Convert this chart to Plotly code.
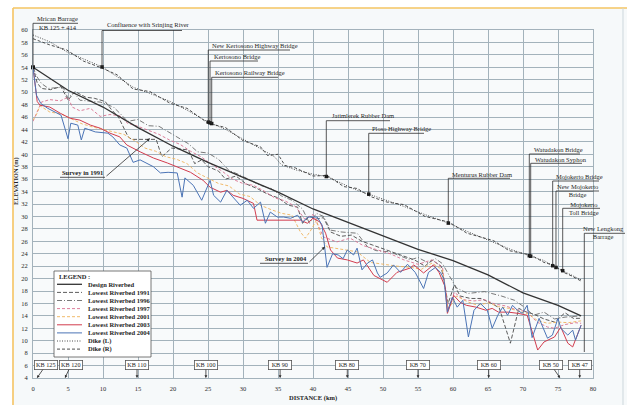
import numpy as np
import plotly.graph_objects as go

FONT = "Liberation Serif"

# ---------------- longitudinal profile data (distance km, elevation m) ----------------
design_km = [0, 5, 10, 15, 20, 25, 30, 35, 40, 45, 50, 55, 60, 65, 70, 75, 78.3]
design_el = [54.0, 50.3, 47.6, 44.3, 41.3, 38.7, 36.3, 33.9, 31.2, 29.0, 26.9, 24.7, 22.9, 20.6, 17.7, 15.7, 14.0]

bed1991_km = [0, 0.6, 1.2, 2.5, 4, 5, 6, 7.5, 8.8, 10.3, 11.2, 12.2, 13.6, 14.1, 17.6, 18.4, 19.8, 22.2, 23.1,
              24.1, 25, 26.5, 27.5, 29, 30.5, 32, 33.5, 35, 36.5, 37.8, 38.5, 39.5, 40.5, 41.5, 42.5, 44, 45.5,
              47, 48.5, 50.5, 52.5, 54.5, 56, 57, 58.3, 59.3, 60.2, 61, 62.5, 64, 65.5, 66.6, 68.2, 69.4, 70.5,
              71.5, 73, 74.5, 76, 77.2, 78.3]
bed1991_el = [54.0, 51.5, 50.6, 50.4, 50.9, 48.7, 50.1, 49.2, 49.0, 48.5, 47.2, 46.0, 42.8, 42.4, 42.4, 39.6,
              41.0, 40.7, 38.5, 39.1, 38.0, 37.3, 36.0, 36.5, 35.2, 34.5, 33.6, 33.0, 31.8, 31.5, 28.9, 30.0,
              29.6, 29.8, 27.5, 26.8, 27.0, 26.0, 25.4, 24.6, 23.8, 23.0, 22.0, 23.0, 22.0, 16.0, 19.0, 17.2,
              16.8, 16.8, 16.0, 15.3, 9.6, 15.2, 14.6, 14.3, 13.5, 13.0, 14.5, 13.6, 13.6]

bed1996_km = [0, 0.5, 1.2, 2.2, 4.3, 5.0, 5.8, 6.7, 9.6, 11.5, 12.5, 13.5, 15, 16.5, 18, 19.5, 21, 22.2, 23.5,
              25, 26.5, 28, 29.5, 31, 32.5, 34, 35.5, 37, 38.5, 39.5, 40.5, 41.5, 42.5, 44, 46.3, 47.8, 49,
              51, 53.9, 55, 56.5, 57.5, 58.5, 59.7, 60.5, 62.1, 64.5, 66.9, 68.8, 70.2, 71.5, 73, 74.5, 76, 78.3]
bed1996_el = [54.0, 52.6, 51.4, 50.6, 50.8, 49.0, 50.0, 48.7, 48.4, 47.6, 46.5, 45.3, 45.6, 44.6, 44.5, 43.5,
              42.4, 41.7, 40.4, 40.2, 39.2, 37.4, 36.7, 35.8, 35.0, 34.5, 33.3, 32.6, 31.2, 28.9, 30.5, 30.0,
              27.8, 27.5, 27.3, 25.1, 24.5, 24.3, 23.0, 23.4, 22.5, 23.2, 22.4, 20.0, 18.5, 17.6, 17.9, 17.2,
              16.5, 15.4, 14.1, 14.6, 13.5, 13.8, 14.0]

bed1997_km = [0, 0.6, 1.2, 2.4, 3.9, 5.0, 5.6, 6.7, 8.2, 9.6, 11, 12.4, 13.5, 15, 16.5, 18, 19.5, 21, 22.5, 24,
              25.5, 27, 28.5, 30, 31.5, 33, 34.5, 36, 37.5, 38.8, 40, 41.5, 43.4, 45.3, 47.2, 49.2, 51, 53, 55,
              57, 58.5, 59.3, 60.2, 61.5, 63, 64.5, 66, 67.5, 69, 70.5, 72, 73.5, 74.5, 76, 77.5, 78.3]
bed1997_el = [45.3, 47.0, 48.4, 48.8, 48.6, 49.2, 47.6, 47.0, 47.4, 46.1, 46.4, 46.2, 45.0, 44.5, 43.8, 43.2,
              42.3, 41.6, 40.5, 39.6, 38.4, 37.3, 36.0, 35.3, 35.0, 34.1, 33.0, 32.5, 31.6, 29.6, 30.3, 26.7,
              25.9, 26.5, 25.3, 24.6, 24.0, 23.0, 22.3, 23.0, 21.8, 15.2, 17.8, 16.6, 16.4, 16.6, 15.9, 15.6,
              15.0, 14.7, 13.0, 12.2, 12.0, 12.6, 12.9, 12.8]

bed2001_km = [0, 0.5, 1, 2.4, 4, 5.5, 7, 8.5, 10, 11.5, 13, 14.5, 16, 17.5, 19, 20.5, 22, 23.5, 25, 26.5, 28,
              29.5, 31, 32.5, 34, 35.5, 37, 38.2, 38.9, 39.6, 40.5, 41.2, 42, 43.5, 46.3, 48.2, 50, 52, 53.9,
              55.5, 57, 58.5, 59.3, 60.5, 62, 63.5, 65, 66.5, 68, 69.5, 70.8, 72, 73.5, 75, 76.5, 78.3]
bed2001_el = [45.5, 46.4, 47.8, 46.8, 46.5, 45.7, 44.9, 44.4, 44.0, 43.6, 43.2, 42.2, 41.0, 40.5, 39.6, 39.2,
              38.5, 37.0, 36.2, 35.3, 34.9, 33.6, 33.2, 31.8, 31.1, 30.5, 30.2, 27.5, 26.5, 27.6, 29.4, 26.6,
              25.1, 24.8, 24.3, 22.6, 22.3, 22.0, 21.8, 21.5, 22.5, 21.4, 15.0, 17.2, 16.3, 15.7, 16.1, 15.5,
              15.2, 14.7, 14.3, 13.3, 12.8, 13.0, 12.9, 13.2]

bed2003_km = [0, 0.6, 1, 2.4, 3.9, 5.3, 6.7, 8.2, 9.6, 11, 12.4, 13.4, 15.3, 17.2, 19.2, 20.6, 22.5, 24.3, 25.3,
              26.8, 27.7, 28.6, 30, 31.5, 32, 38.2, 39.2, 40, 41, 41.8, 42.5, 43.5, 44.9, 46.3, 47.2, 48.7,
              50.6, 52, 53.9, 54.4, 55.8, 57.2, 58, 58.9, 59.2, 60.1, 61, 61.9, 63.3, 64.7, 65.6, 66.5, 67.9,
              69.3, 70.6, 72.1, 73, 74.5, 75.4, 76.4, 77.1, 78.3]
bed2003_el = [54.0, 48.5, 47.9, 47.6, 46.6, 45.8, 45.5, 44.7, 44.2, 43.4, 42.8, 41.5, 40.4, 39.4, 38.6, 38.0,
              37.1, 35.8, 34.7, 33.9, 34.2, 33.4, 32.9, 32.1, 29.4, 29.4, 28.9, 29.7, 29.1, 27.3, 24.6, 23.3,
              23.0, 22.5, 23.0, 20.5, 19.4, 21.0, 21.7, 22.2, 20.9, 22.2, 21.0, 18.6, 14.4, 17.3, 16.2, 15.7,
              15.4, 14.9, 15.2, 14.6, 14.6, 14.4, 14.1, 8.5, 9.8, 10.6, 12.2, 9.6, 9.0, 12.5]

bed2004_km = [0, 0.5, 1.1, 2.1, 4, 5, 5.4, 6.4, 6.9, 7.4, 8.9, 10.7, 11.4, 12.4, 13.4, 14.3, 15.3, 17.2, 18.2,
              19.3, 20.6, 21.3, 21.7, 22.9, 24.1, 25.3, 25.8, 26.8, 27.7, 28.6, 29.6, 30.6, 31.5, 32.5, 33.2,
              33.9, 34.9, 35.8, 36.8, 37.8, 38.5, 39.3, 40.6, 41.3, 42.0, 42.8, 43.6, 44.3, 44.9, 45.8, 46.3,
              47.0, 47.8, 48.5, 49.2, 49.6, 50.6, 51.5, 52.5, 53.5, 54.6, 55.8, 56.5, 57.5, 58.2, 58.7, 59.2,
              59.9, 60.6, 61.4, 62.2, 63.0, 63.9, 64.9, 65.6, 66.4, 67.1, 67.8, 68.5, 69.2, 69.9, 70.6, 71.3,
              72.3, 73.5, 74.2, 75.0, 75.4, 76.4, 77.1, 77.5, 78.3]
bed2004_el = [54.0, 49.5, 48.2, 47.4, 46.3, 42.5, 45.0, 44.7, 42.3, 44.2, 43.6, 43.4, 42.8, 41.5, 41.0, 38.7,
              39.1, 38.0, 37.0, 37.1, 37.0, 33.1, 36.2, 35.0, 32.6, 35.8, 33.4, 32.3, 34.2, 33.0, 31.8, 32.6,
              31.3, 32.3, 28.9, 30.7, 29.9, 29.9, 29.7, 30.2, 29.1, 29.9, 29.9, 28.6, 21.8, 24.0, 23.8, 23.2,
              24.6, 23.8, 24.9, 21.4, 22.5, 23.0, 20.9, 20.2, 20.9, 22.2, 21.0, 22.3, 21.0, 18.4, 21.0, 21.8,
              21.0, 20.0, 14.6, 17.0, 15.4, 16.5, 10.6, 14.9, 16.0, 14.9, 12.0, 14.1, 15.4, 14.1, 15.7, 14.9,
              14.4, 15.7, 10.5, 13.6, 10.4, 10.9, 13.6, 12.0, 10.9, 11.7, 10.1, 12.5]

dikeL_km = [0, 2.4, 4.8, 7.2, 9.8, 12, 14.3, 16.7, 19.6, 22, 25, 27.5, 30, 32.5, 34.5, 35.5, 37.5, 40, 42,
            44.4, 46.3, 48.2, 50.6, 53, 56, 59.4, 62, 65.8, 68, 71.1, 73, 74.5, 75.8, 77, 78.3]
dikeL_el = [59.2, 58.1, 56.5, 55.4, 54.1, 52.5, 50.8, 49.8, 48.5, 47.1, 45.2, 44.0, 42.5, 40.9, 39.6, 38.3,
            37.5, 36.8, 36.4, 35.1, 34.2, 33.5, 32.6, 31.6, 30.3, 28.9, 27.6, 25.9, 24.8, 23.6, 22.9, 21.9,
            21.2, 20.5, 19.8]

dikeR_km = [0, 2.4, 4.8, 7.2, 9.8, 12, 14.3, 16.7, 19.6, 22, 25, 27.5, 30, 32.5, 33.5, 35, 36, 37.5, 40, 42,
            44.4, 46.3, 48.2, 50.6, 53, 56, 59.4, 62, 65.8, 68, 71.1, 73, 74.5, 75.8, 77, 78.3]
dikeR_el = [58.6, 57.6, 56.8, 55.0, 53.9, 52.8, 50.5, 50.1, 48.2, 47.4, 45.0, 44.3, 42.2, 41.2, 39.8, 40.0,
            38.2, 37.8, 36.5, 36.6, 34.8, 34.5, 33.2, 32.3, 31.9, 30.0, 29.1, 27.3, 26.1, 24.5, 23.8, 22.6,
            22.1, 21.0, 20.4, 19.6]

# structures along the river (distance km)
struct_names = ["Confluence with Srinjing River", "New Kertosono Highway Bridge", "Kertosono Bridge",
                "Kertosono Railway Bridge", "Jatimlerek Rubber Dam", "Ploso Highway Bridge",
                "Menturus Rubber Dam", "Watudakon Bridge", "Watudakon Syphon", "Mojokerto Bridge",
                "New Mojokerto<br>Bridge", "Mojokerto<br>Toll Bridge"]
struct_km = [9.86, 25.04, 25.29, 25.53, 41.9, 47.96, 59.33, 70.9, 71.1, 74.24, 74.71, 75.67]

# kilometre posts
kb_labels = ["KB 125", "KB 120", "KB 110", "KB 100", "KB 90", "KB 80", "KB 70", "KB 60", "KB 50", "KB 47"]
kb_km = [0.57, 4.57, 14.86, 24.7, 35.3, 44.9, 55.0, 65.1, 75.3, 78.1]

x_ticks = list(range(0, 81, 5))
y_ticks = list(range(4, 61, 2))

# ---------------- layout geometry helpers ----------------
X0, X1, Y0, Y1 = 0, 80, 4, 60
L, T, W, H = 33, 30, 560, 348  # plot area in screen pixels


def pxx(px):  # screen x -> paper
    return (px - L) / W


def pxy(py):  # screen y -> paper
    return (T + H - py) / H


def kmx(km):  # data x -> paper
    return (km - X0) / (X1 - X0)


def ely(el):  # data y -> paper
    return (el - Y0) / (Y1 - Y0)


INK = "#2e2e2e"
GRID = "#a3b2bb"

series = [
    ("Design Riverbed", design_km, design_el, "#333333", 1.3, "solid"),
    ("Lowest Riverbed 1991", bed1991_km, bed1991_el, "#4a4a4a", 0.9, "4px,2px"),
    ("Lowest Riverbed 1996", bed1996_km, bed1996_el, "#6a6a6a", 0.9, "5px,2px,1px,2px"),
    ("Lowest Riverbed 1997", bed1997_km, bed1997_el, "#d86f8e", 0.9, "3px,2px"),
    ("Lowest Riverbed 2001", bed2001_km, bed2001_el, "#efb25a", 0.9, "3px,2px"),
    ("Lowest Riverbed 2003", bed2003_km, bed2003_el, "#d23c4e", 1.0, "solid"),
    ("Lowest Riverbed 2004", bed2004_km, bed2004_el, "#4b74b6", 1.0, "solid"),
    ("Dike (L)", dikeL_km, dikeL_el, "#3a3a3a", 0.9, "1px,1.5px"),
    ("Dike (R)", dikeR_km, dikeR_el, "#3a3a3a", 0.9, "3px,2px"),
]

fig = go.Figure()
# draw order: dikes and older surveys first, recent surveys on top
for name, xs, ys, col, wd, dash in [series[i] for i in (7, 8, 1, 2, 3, 4, 0, 5, 6)]:
    fig.add_trace(go.Scatter(x=xs, y=ys, mode="lines", name=name,
                             line=dict(color=col, width=wd, dash=dash),
                             showlegend=False, hoverinfo="skip", cliponaxis=False))

shapes = []
annos = []


def seg(x0, y0, x1, y1, color=INK, width=0.8):
    shapes.append(dict(type="line", xref="paper", yref="paper", x0=x0, y0=y0, x1=x1, y1=y1,
                       line=dict(color=color, width=width), layer="above"))


def text(x, y, s, size=6.5, xanchor="left", bold=False, align="left"):
    annos.append(dict(x=x, y=y, xref="paper", yref="paper", text=f"<b>{s}</b>" if bold else s,
                      showarrow=False, xanchor=xanchor, yanchor="middle", align=align,
                      font=dict(family=FONT, size=size, color="#1e1e1e")))


def pointer(tip_x, tip_y, tail_x, tail_y):
    # arrow drawn in screen pixels from tail to tip
    annos.append(dict(x=pxx(tip_x), y=pxy(tip_y), xref="paper", yref="paper", text="",
                      showarrow=True, ax=tail_x - tip_x, ay=tail_y - tip_y, arrowhead=2,
                      arrowsize=0.8, arrowwidth=0.8, arrowcolor=INK, standoff=0, startstandoff=0))


# page background and frame
shapes.append(dict(type="rect", xref="paper", yref="paper", x0=pxx(0), x1=pxx(13), y0=pxy(405), y1=pxy(0),
                   fillcolor="white", line=dict(width=0), layer="below"))
shapes.append(dict(type="rect", xref="paper", yref="paper", x0=pxx(0), x1=pxx(627), y0=pxy(8), y1=pxy(0),
                   fillcolor="white", line=dict(width=0), layer="below"))
seg(pxx(13), pxy(8), pxx(627), pxy(8), "#f5c462", 1.6)
seg(pxx(13), pxy(8), pxx(13), pxy(405), "#f5c462", 1.6)
seg(pxx(623), pxy(8), pxx(623), pxy(405), "#cdd7dc", 1.0)

# structure leaders: label, underline, drop line to the dike crest
label_pos = [  # (text x px, text y px, anchor, underline y px, underline end x px)
    (105, 25, "left", 30.5, 182),
    (210, 45, "left", 50, 290),
    (212, 56.3, "left", 61, 258),
    (213, 72.8, "left", 77.3, 278),
    (330, 115.7, "left", 120.7, 390),
    (370, 128.3, "left", 133.3, 424),
    (450, 174, "left", 178.3, 510),
    (532, 149.5, "left", 154, 580),
    (533, 159, "left", 163.3, 582),
    (554, 176.5, "left", 181, 599),
    (577, 190.5, "center", 191, 599),
    (583.5, 208, "center", 208.3, 600),
]
crest = np.interp(struct_km, dikeL_km, dikeL_el)
for name, km, z, (tx, ty, anc, uy, ux1) in zip(struct_names, struct_km, crest, label_pos):
    text(pxx(tx), pxy(ty), name, xanchor=anc, align="center" if anc == "center" else "left")
    seg(kmx(km), pxy(uy), pxx(ux1), pxy(uy))
    seg(kmx(km), pxy(uy), kmx(km), ely(z))
fig.add_trace(go.Scatter(x=struct_km, y=crest, mode="markers", showlegend=False, hoverinfo="skip",
                         marker=dict(symbol="square", size=3.5, color="#1a1a1a"), cliponaxis=False))

# barrages at both ends of the reach
text(pxx(35), pxy(18.5), "Mrican Barrage")
text(pxx(37), pxy(27.3), "KB 125 + 414")
seg(kmx(0), pxy(23.3), pxx(78), pxy(23.3))
seg(kmx(0), pxy(23.3), kmx(design_km[0]), ely(design_el[0]))
fig.add_trace(go.Scatter(x=[design_km[0]], y=[design_el[0]], mode="markers", showlegend=False,
                         hoverinfo="skip", marker=dict(symbol="square", size=4, color="#1a1a1a"),
                         cliponaxis=False))
text(pxx(603), pxy(233), "New Lengkong<br>Barrage", xanchor="center", align="center")
seg(pxx(584.3), pxy(233.3), pxx(625), pxy(233.3))
seg(pxx(584.3), pxy(233.3), pxx(584.3), pxy(352))

# survey call-outs
text(pxx(82.5), pxy(172), "Survey in 1991", xanchor="center", bold=True)
seg(pxx(60), pxy(177.3), pxx(105), pxy(177.3))
pointer(150, 138.3, 105, 177.3)
text(pxx(286), pxy(258.5), "Survey in 2004", xanchor="center", bold=True)
seg(pxx(260), pxy(263.3), pxx(308), pxy(263.3))
pointer(325, 246.7, 308, 263.3)

# kilometre-post boxes with pointers down to the base line
kb_shift = [9, 6, 0, 0, 0, 0, 0, 0, -9, 0]
for lab, km, sh in zip(kb_labels, kb_km, kb_shift):
    annos.append(dict(x=km, y=Y0, xref="x", yref="y", text=lab, showarrow=True, ax=sh, ay=-13,
                      arrowhead=2, arrowsize=0.7, arrowwidth=0.8, arrowcolor=INK,
                      bordercolor="#555555", borderwidth=0.8, borderpad=0.5, bgcolor="white",
                      width=21, height=7, font=dict(family=FONT, size=6.2, color="#1e1e1e")))

# legend panel
shapes.append(dict(type="rect", xref="paper", yref="paper", x0=pxx(54), x1=pxx(151), y0=pxy(357),
                   y1=pxy(271), fillcolor="white", line=dict(color="#555555", width=0.8), layer="above"))
text(pxx(56.5), pxy(276.5), "LEGEND :", bold=True)
for i, (name, xs, ys, col, wd, dash) in enumerate(series):
    ry = 284.3 + 8.1 * i
    shapes.append(dict(type="line", xref="paper", yref="paper", x0=pxx(57), x1=pxx(82), y0=pxy(ry), y1=pxy(ry),
                       line=dict(color=col, width=wd, dash=dash), layer="above"))
    text(pxx(86), pxy(ry), name, bold=True)

# axis titles
text(0.5, pxy(398), "DISTANCE (km)", size=6.5, xanchor="center", bold=True)
annos.append(dict(x=pxx(16), y=pxy(181), xref="paper", yref="paper", text="<b>ELEVATION (m)</b>",
                  xanchor="center", yanchor="middle", showarrow=False, textangle=-90, borderpad=0,
                  font=dict(family=FONT, size=6.3, color="#1e1e1e")))

axis_common = dict(showgrid=True, gridcolor=GRID, gridwidth=0.8, zeroline=False, showline=True,
                   linecolor=GRID, linewidth=0.8, mirror=True, ticks="", fixedrange=True,
                   tickfont=dict(family=FONT, size=6.5, color="#2a2a2a"))
fig.update_layout(
    width=627, height=405,
    margin=dict(l=L, r=627 - L - W, t=T, b=405 - T - H, pad=0),
    paper_bgcolor="#f6f9fa", plot_bgcolor="#f8fafb",
    xaxis=dict(range=[X0, X1], tickmode="array", tickvals=x_ticks, ticklabelstandoff=4, **axis_common),
    yaxis=dict(range=[Y0, Y1], tickmode="array", tickvals=y_ticks, ticklabelstandoff=3, **axis_common),
    shapes=shapes, annotations=annos, showlegend=False,
    font=dict(family=FONT),
)

fig.write_html("out.html")
